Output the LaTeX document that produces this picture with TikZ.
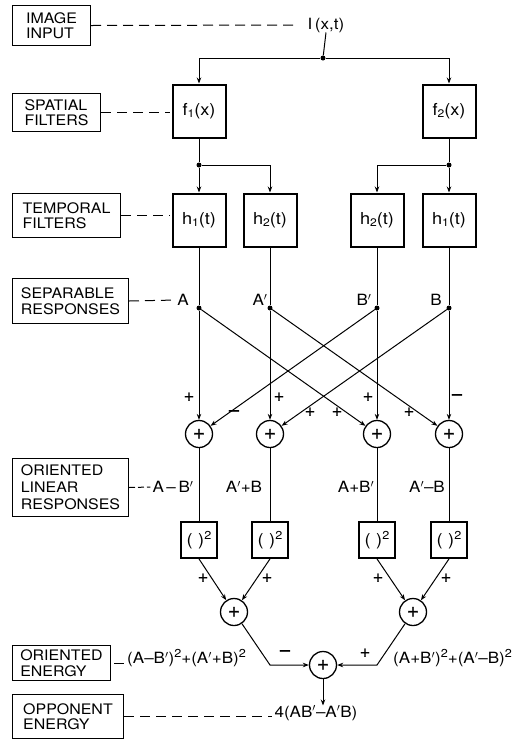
\documentclass[tikz,border=0pt]{standalone}
\usepackage{fontspec}
\setmainfont{TeX Gyre Heros}[FakeStretch=1.1]
\newfontfamily\signfam{TeX Gyre Heros}[FakeBold=1.2]
\usetikzlibrary{arrows.meta}
\newcommand\lblfont{\fontsize{14.5}{15.5}\selectfont}
\newcommand\boxfont{\fontsize{16.5}{17}\selectfont}
\newcommand\txtfont{\fontsize{15.5}{16}\selectfont}
\newcommand\sgnfont{\signfam\fontsize{18}{18}\selectfont}
\newcommand\circfont{\signfam\fontsize{21}{21}\selectfont}
\newcommand\mysub[1]{\raisebox{-0.3ex}{\fontsize{11}{11}\selectfont #1}}
\newcommand\mysup[1]{\raisebox{0.75ex}{\fontsize{11.5}{11.5}\selectfont #1}}
\begin{document}
\begin{tikzpicture}[x=1pt,y=-1pt,
  lbl/.style={draw, line width=1pt, align=left, inner sep=0pt, font=\lblfont, anchor=north west},
  filt/.style={draw, line width=2pt, minimum width=53pt, minimum height=53pt, inner sep=0pt, font=\boxfont},
  sq/.style={draw, line width=1.8pt, minimum width=36pt, minimum height=36pt, inner sep=0pt, font=\boxfont},
  sumn/.style={circle, draw, line width=1.3pt, minimum size=27pt, inner sep=0pt, font=\circfont},
  jdot/.style={circle, fill, inner sep=0pt, minimum size=5pt},
  con/.style={line width=1pt},
  arr/.style={con, -{Stealth[length=6pt,width=4.5pt]}},
  dsh/.style={line width=1pt, dash pattern=on 10pt off 6pt},
  sgn/.style={font=\sgnfont, inner sep=0pt},
  txt/.style={font=\txtfont, inner sep=0pt},
]
\useasboundingbox (0,0) rectangle (514,740);

% label boxes
\node[lbl, minimum width=78pt, minimum height=40pt] (L1) at (12,5) {IMAGE\\INPUT};
\node[lbl, minimum width=88pt, minimum height=38pt] (L2) at (12,93) {SPATIAL\\FILTERS};
\node[lbl, minimum width=108pt, minimum height=44pt] (L3) at (12,193) {TEMPORAL\\FILTERS};
\node[lbl, minimum width=116pt, minimum height=45pt] (L4) at (12,278) {SEPARABLE\\RESPONSES};
\node[lbl, minimum width=116pt, minimum height=58pt, font=\fontsize{14.5}{17}\selectfont] (L5) at (12,458) {ORIENTED\\LINEAR\\RESPONSES};
\node[lbl, minimum width=98pt, minimum height=35pt] (L6) at (12,645) {ORIENTED\\ENERGY};
\node[lbl, minimum width=111pt, minimum height=44pt] (L7) at (12,694) {OPPONENT\\ENERGY};

% input
\node[txt] (in) at (326,25) {I\,(x,t)};
\node[jdot] (j0) at (323,58) {};

% spatial filters
\node[filt] (f1) at (199,111) {f\mysub{1}(x)};
\node[filt] (f2) at (449,111) {f\mysub{2}(x)};

\node[jdot] (j1) at (199,165) {};
\node[jdot] (j2) at (449,165) {};

% temporal filters
\node[filt] (h1a) at (199,220) {h\mysub{1}(t)};
\node[filt] (h2a) at (270,220) {h\mysub{2}(t)};
\node[filt] (h2b) at (377,220) {h\mysub{2}(t)};
\node[filt] (h1b) at (449,220) {h\mysub{1}(t)};

% separable responses
\node[jdot] (sA) at (199,308) {};
\node[jdot] (sAp) at (270,308) {};
\node[jdot] (sBp) at (377,308) {};
\node[jdot] (sB) at (449,308) {};
\node[txt] (lA) at (183,300) {A};
\node[txt] (lAp) at (260,300) {A$'$};
\node[txt] (lBp) at (364,300) {B$'$};
\node[txt] (lB) at (436,300) {B};

% first summations
\node[sumn] (s1) at (199,434) {+};
\node[sumn] (s2) at (270,434) {+};
\node[sumn] (s3) at (377,434) {+};
\node[sumn] (s4) at (449,434) {+};

% oriented linear responses
\node[txt] (oA) at (173,487) {A\,–\,B$'$};
\node[txt] (oB) at (244,487) {A$'$+B};
\node[txt] (oC) at (356,487) {A+B$'$};
\node[txt] (oD) at (427,487) {A$'$–B};

% squaring
\node[sq] (q1) at (199,540) {(\,\,)\mysup{2}};
\node[sq] (q2) at (270,540) {(\,\,)\mysup{2}};
\node[sq] (q3) at (377,540) {(\,\,)\mysup{2}};
\node[sq] (q4) at (449,540) {(\,\,)\mysup{2}};

% second summations
\node[sumn] (sa) at (234,612) {+};
\node[sumn] (sb) at (413,612) {+};
\node[sumn] (fin) at (323,665) {+};
\coordinate (k1) at (270,665);
\coordinate (k2) at (377,665);

% energies
\node[txt, anchor=west] (eL) at (127,658) {(A–B$'$)\mysup{2}+(A$'$+B)\mysup{2}};
\node[txt, anchor=west] (eR) at (393,658) {(A+B$'$)\mysup{2}+(A$'$–B)\mysup{2}};
\node[txt] (out) at (316,713) {4(AB$'$–A$'$B)};

% connectors
\draw[con] (in.south) -- (j0);
\draw[arr] (j0) -| (f1.north);
\draw[arr] (j0) -| (f2.north);
\draw[con] (f1.south) -- (j1);
\draw[con] (f2.south) -- (j2);
\draw[arr] (j1) -- (h1a.north);
\draw[arr] (j1) -| (h2a.north);
\draw[arr] (j2) -- (h1b.north);
\draw[arr] (j2) -| (h2b.north);
\draw[con] (h1a.south) -- (sA);
\draw[con] (h2a.south) -- (sAp);
\draw[con] (h2b.south) -- (sBp);
\draw[con] (h1b.south) -- (sB);

\draw[arr] (sA) -- (s1);
\draw[arr] (sAp) -- (s2);
\draw[arr] (sBp) -- (s3);
\draw[arr] (sB) -- (s4);
\draw[arr] (sA) -- (s3);
\draw[arr] (sAp) -- (s4);
\draw[arr] (sBp) -- (s1);
\draw[arr] (sB) -- (s2);

\draw[con] (s1) -- (q1);
\draw[con] (s2) -- (q2);
\draw[con] (s3) -- (q3);
\draw[con] (s4) -- (q4);

\draw[arr] (q1.south) -- (sa);
\draw[arr] (q2.south) -- (sa);
\draw[arr] (q3.south) -- (sb);
\draw[arr] (q4.south) -- (sb);

\draw[arr] (sa) -- (k1) -- (fin);
\draw[arr] (sb) -- (k2) -- (fin);
\draw[arr] (fin) -- (fin |- out.north);

% signs
\node[sgn] at (189,397) {+};
\node[sgn] at (234,413) {–};
\node[sgn] at (279,397) {+};
\node[sgn] at (310,412) {+};
\node[sgn] at (337,412) {+};
\node[sgn] at (368,397) {+};
\node[sgn] at (409,412) {+};
\node[sgn] at (457,397) {–};
\node[sgn] at (203,578) {+};
\node[sgn] at (267,578) {+};
\node[sgn] at (378,578) {+};
\node[sgn] at (446,578) {+};
\node[sgn] at (285,653) {–};
\node[sgn] at (365,653) {+};

% dashed leaders
\draw[dsh, shorten >=10pt] (L1.east) -- (in.west);
\draw[dsh, shorten >=2pt] (L2.east) -- (L2.east -| f1.west);
\draw[dsh, shorten >=2pt] (L3.east) -- (L3.east -| h1a.west);
\draw[dsh, shorten >=2pt] (L4.east) -- (lA.west);
\draw[dsh, dash pattern=on 6pt off 3pt, shorten >=2pt] (L5.east) -- (oA.west);
\draw[dsh, shorten >=3pt, shorten <=3pt] (L6.east) -- (L6.east -| eL.west);
\draw[dsh, shorten >=2pt] (L7.east) -- (L7.east -| out.west);
\end{tikzpicture}
\end{document}
